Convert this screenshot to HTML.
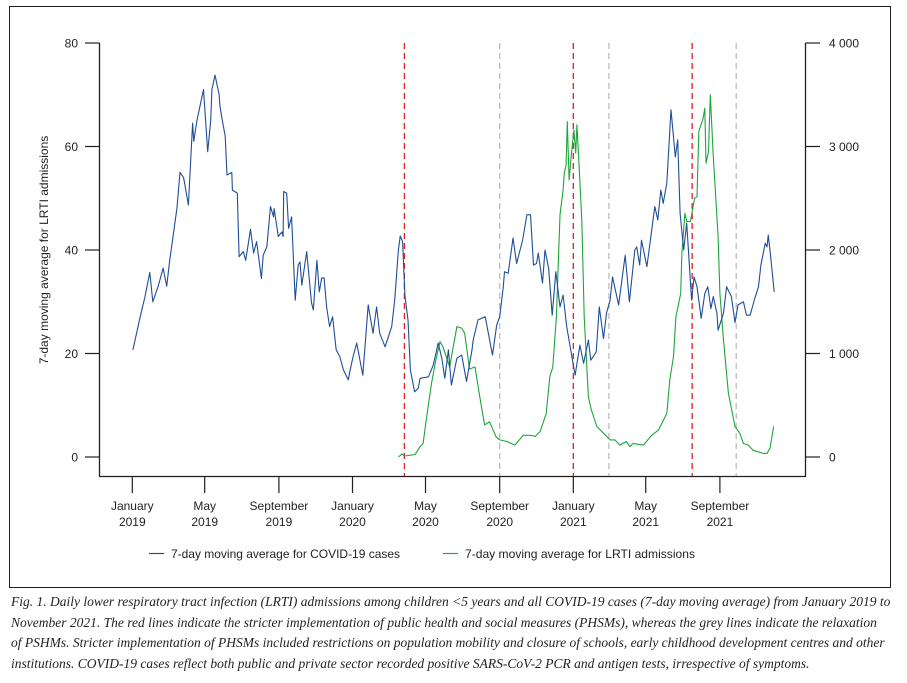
<!DOCTYPE html>
<html><head><meta charset="utf-8">
<style>
body{margin:0;background:#fff;width:907px;height:683px;overflow:hidden;font-family:"Liberation Sans",sans-serif;}
#frame{position:absolute;left:9px;top:6px;width:882px;height:582px;border:1.3px solid #231f20;box-sizing:border-box;}
#caption{position:absolute;left:11px;top:592px;width:895px;white-space:nowrap;font-family:"Liberation Serif",serif;font-style:italic;font-size:13.5px;line-height:20.7px;color:#231f20;}
svg{position:absolute;left:0;top:0;}
text{font-family:"Liberation Sans",sans-serif;fill:#231f20;}
</style></head><body>
<div id="frame"></div>
<svg id="chart" width="907" height="683"></svg>
<div id="caption">Fig. 1. Daily lower respiratory tract infection (LRTI) admissions among children &lt;5 years and all COVID-19 cases (7-day moving average) from January 2019 to<br>November 2021. The red lines indicate the stricter implementation of public health and social measures (PHSMs), whereas the grey lines indicate the relaxation<br>of PSHMs. Stricter implementation of PHSMs included restrictions on population mobility and closure of schools, early childhood development centres and other<br>institutions. COVID-19 cases reflect both public and private sector recorded positive SARS-CoV-2 PCR and antigen tests, irrespective of symptoms.</div>
<script>
// days since 1 Jan 2019
const blueDays=[1,13,21,29,34,43,51,57,62,74,79,85,93,100,102,107,118,125,130,132,137,144,145,148,154,157,165,166,174,177,184,188,196,201,206,214,217,223,229,234,235,242,248,250,251,256,259,264,270,275,278,281,289,297,300,306,310,314,318,322,327,332,338,344,350,358,361,366,372,382,391,399,405,410,419,430,435,441,444,448,452,457,461,468,474,477,491,499,507,513,518,524,529,538,546,554,563,565,573,585,597,604,609,615,617,623,631,637,647,654,660,665,670,673,680,684,690,696,702,709,714,720,734,742,748,756,760,769,774,781,786,792,796,806,817,824,833,836,841,844,853,866,871,876,880,886,893,900,904,908,914,919,927,931,936,943,949,954,959,963,969,971,980,985,993,999,1004,1013,1018,1024,1032,1038,1042,1049,1052,1054,1057,1060,1064];
const blueValues=[20.7,27,31,35.7,30,33,36.5,33,38,48,55,54,48.7,64.5,61,65,71,59,65,71,73.8,70,68,65.8,62,54.5,55,51.6,51,38.7,39.7,38,44,39.4,41.6,34.5,39,40.6,48.4,46.4,48,42.6,43.5,42.6,51.3,51,44.2,46.4,30.3,37.1,37.7,33.2,39.7,29.8,28.4,38,31.9,34.6,34.6,29,25.2,27.1,20.7,19.4,16.8,14.9,16.8,19.4,22,15.8,29.4,23.9,29,23.9,21.3,25.2,30.3,40,42.7,41.6,31,26.5,16.8,12.6,13.3,15.2,15.5,17.8,22,19.1,15.2,20.7,13.9,19.1,19.7,14.6,20.7,22.6,26.5,27.1,19.7,25.5,27.1,32.9,35.8,35.5,42.3,37.4,41.9,46.8,46.8,37.1,37.4,39.4,33.6,40,36.5,27.4,35.8,29,31.3,25.2,15.8,21.6,18.1,22.6,18.7,20.3,29,22.9,27.8,30.3,34.8,29.4,39,30,40,40.6,37.1,41.9,36.8,48.4,45.8,51.6,49,52.9,67.1,58,61.3,47.1,40,45.2,30.3,34.8,32.9,26.8,31.6,32.9,28.7,31,27.8,24.5,27.8,32.9,31,26,29.4,30,27.4,27.4,30.7,32.9,37.1,41.3,40.6,42.9,40,36.5,31.9];
const greenDays=[441,447,452,469,477,482,488,496,502,510,515,526,538,546,551,559,568,576,584,592,603,609,621,634,648,659,668,676,686,692,697,703,709,714,716,719,721,724,728,732,735,737,741,745,749,756,761,770,792,800,808,819,825,830,847,861,872,886,891,897,901,909,911,916,919,925,932,936,939,946,949,951,955,958,963,971,974,980,988,999,1007,1013,1021,1029,1046,1052,1057,1063];
const greenValues=[0,30,10,25,100,130,390,710,905,1115,1065,870,1260,1245,1195,850,870,580,310,340,195,165,150,115,210,210,200,245,420,775,870,1355,2340,2580,2745,2820,3240,2675,2935,3160,2935,3210,2775,2290,1355,580,455,295,165,165,115,150,100,130,115,210,260,420,745,970,1355,1580,1970,2355,2275,2275,2500,2515,3145,3270,3370,2840,2950,3500,2900,2130,1580,1130,615,295,230,130,115,65,35,35,85,295];
const leftTicks=[0,20,40,60,80];
const rightTicks=[0,1000,2000,3000,4000];
const rightTickLabels=["0","1 000","2 000","3 000","4 000"];
const xTickDays=[0,120,243,365,486,609,731,851,974];
const xTickMonths=["January","May","September","January","May","September","January","May","September"];
const xTickYears=["2019","2019","2019","2020","2020","2020","2021","2021","2021"];
const redLineDays=[451,731,928];
const greyLineDays=[609,790,1001];

const NS="http://www.w3.org/2000/svg";
const svg=document.getElementById('chart');
const X=d=>132.3+d*0.6033;
const YL=v=>457-v*5.175;
const YR=v=>457-v*0.1035;
function mk(tag,attrs,parent){const e=document.createElementNS(NS,tag);for(const k in attrs)e.setAttribute(k,attrs[k]);(parent||svg).appendChild(e);return e;}

let a=mk('line',{x1:99.5,y1:43,x2:99.5,y2:476.5,stroke:'#231f20','stroke-width':1.3});


a=mk('line',{x1:805.5,y1:43,x2:805.5,y2:476.5,stroke:'#231f20','stroke-width':1.3});


a=mk('line',{x1:99,y1:476.5,x2:806,y2:476.5,stroke:'#231f20','stroke-width':1.3});



leftTicks.forEach(v=>{
  const y=YL(v);
  const t=mk('line',{x1:85,y1:y,x2:99.5,y2:y,stroke:'#231f20','stroke-width':1.2});
  
  
  const l=mk('text',{x:78,y:y+4.5,'text-anchor':'end','font-size':12});
  l.textContent=v;
  
  
});
rightTicks.forEach((v,i)=>{
  const y=YR(v);
  const t=mk('line',{x1:805.5,y1:y,x2:820,y2:y,stroke:'#231f20','stroke-width':1.2});
  
  
  const l=mk('text',{x:829,y:y+4.5,'font-size':12});
  l.textContent=rightTickLabels[i];
  
  
});
xTickDays.forEach((d,i)=>{
  const x=X(d);
  const t=mk('line',{x1:x,y1:476.5,x2:x,y2:493,stroke:'#231f20','stroke-width':1.2});
  
  
  const l=mk('text',{x:x,y:510,'text-anchor':'middle','font-size':12});
  l.textContent=xTickMonths[i];
  
  
  const l2=mk('text',{x:x,y:526,'text-anchor':'middle','font-size':12});
  l2.textContent=xTickYears[i];
  
  
});
const yt=mk('text',{x:0,y:0,'text-anchor':'middle','font-size':12,transform:'translate(48,250) rotate(-90)'});
yt.textContent='7-day moving average for LRTI admissions';



redLineDays.forEach(d=>{
  const l=mk('line',{x1:X(d),y1:43,x2:X(d),y2:476,stroke:'#e31e24','stroke-width':1.3,'stroke-dasharray':'6,4'});
  
  
});
greyLineDays.forEach(d=>{
  const l=mk('line',{x1:X(d),y1:43,x2:X(d),y2:476,stroke:'#bdbdbd','stroke-width':1.3,'stroke-dasharray':'6,4'});
  
  
});

let gp=greenDays.map((d,i)=>X(d).toFixed(1)+','+YR(greenValues[i]).toFixed(1)).join(' ');
const g=mk('polyline',{points:gp,fill:'none',stroke:'#1ea53a','stroke-width':1.1,'stroke-linejoin':'round'});


let bp=blueDays.map((d,i)=>X(d).toFixed(1)+','+YL(blueValues[i]).toFixed(1)).join(' ');
const b=mk('polyline',{points:bp,fill:'none',stroke:'#1f4e96','stroke-width':1.1,'stroke-linejoin':'round'});



let lg=mk('line',{x1:149,y1:553.5,x2:164,y2:553.5,stroke:'#1f4e96','stroke-width':1.2});


let lt=mk('text',{x:171,y:558,'font-size':12,textLength:229,lengthAdjust:'spacingAndGlyphs'});
lt.textContent='7-day moving average for COVID-19 cases';


lg=mk('line',{x1:443,y1:553.5,x2:458,y2:553.5,stroke:'#2a8fb0','stroke-width':1.2});


lt=mk('text',{x:465,y:558,'font-size':12,textLength:230,lengthAdjust:'spacingAndGlyphs'});
lt.textContent='7-day moving average for LRTI admissions';


</script>
</body></html>
